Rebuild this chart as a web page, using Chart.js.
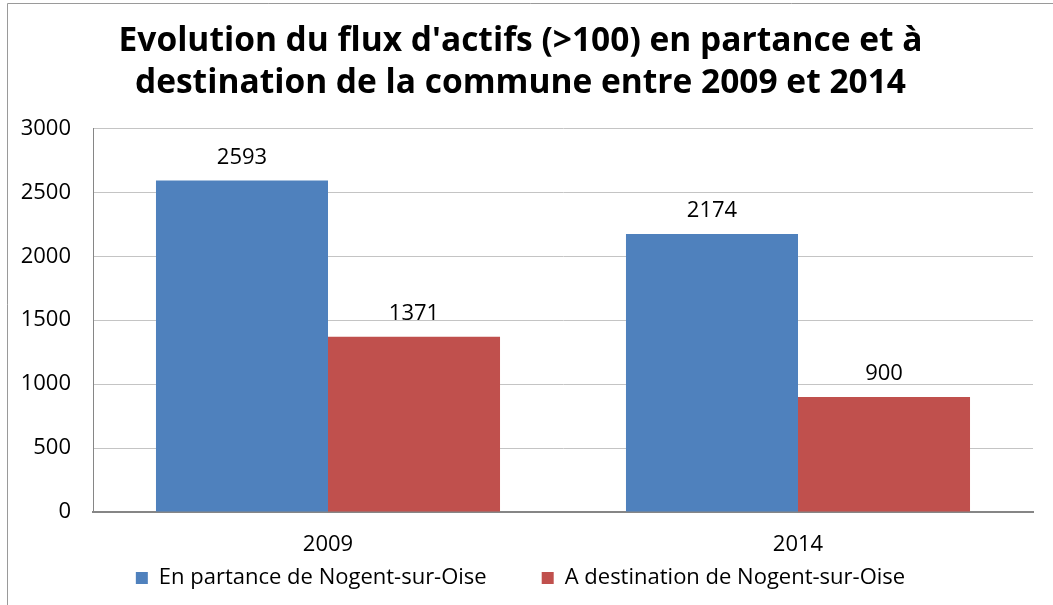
<!DOCTYPE html>
<html lang="fr">
<head>
<meta charset="utf-8">
<title>Flux d'actifs</title>
<script src="https://cdn.jsdelivr.net/npm/chart.js@4/dist/chart.umd.min.js"></script>
<style>
  html, body { margin: 0; padding: 0; background: #fff; }
  #wrap { width: 1053px; height: 605px; position: relative; }
</style>
</head>
<body>
<div id="wrap"><canvas id="chart"></canvas></div>
<script>
// --- DATA ---
const categories = ['2009', '2014'];
const departures = [2593, 2174];   // En partance de Nogent-sur-Oise
const arrivals = [1371, 900];      // A destination de Nogent-sur-Oise
const seriesNames = ['En partance de Nogent-sur-Oise', 'A destination de Nogent-sur-Oise'];
const titleLines = ["Evolution du flux d'actifs (>100) en partance et à", 'destination de la commune entre 2009 et 2014'];

const FONT = "'Open Sans', 'Noto Sans', sans-serif";

// value labels above each bar
const valueLabels = {
    id: 'valueLabels',
    afterDatasetsDraw(chart) {
        const ctx = chart.ctx;
        ctx.save();
        ctx.font = '22px ' + FONT;
        ctx.fillStyle = '#000';
        ctx.textAlign = 'center';
        ctx.textBaseline = 'middle';
        chart.data.datasets.forEach((ds, i) => {
            chart.getDatasetMeta(i).data.forEach((bar, j) => {
                ctx.fillText(String(ds.data[j]), bar.x, bar.y - 23);
            });
        });
        ctx.restore();
    }
};

// outer frame of the chart object
const frame = {
    id: 'frame',
    beforeDraw(chart) {
        const ctx = chart.ctx;
        ctx.save();
        ctx.strokeStyle = '#9a9a9a';
        ctx.lineWidth = 1;
        ctx.beginPath();
        ctx.moveTo(7.5, chart.height);
        ctx.lineTo(7.5, 3.5);
        ctx.lineTo(chart.width, 3.5);
        ctx.stroke();
        ctx.restore();
    }
};

new Chart(document.getElementById('chart'), {
    type: 'bar',
    data: {
        labels: categories,
        datasets: [
            { label: seriesNames[0], data: departures, backgroundColor: '#4F81BD' },
            { label: seriesNames[1], data: arrivals, backgroundColor: '#C0504D' }
        ]
    },
    options: {
        responsive: true,
        maintainAspectRatio: false,
        animation: false,
        layout: { padding: { left: 8, right: 20, top: 10, bottom: 6 } },
        datasets: { bar: { categoryPercentage: 0.732, barPercentage: 1.0 } },
        plugins: {
            title: {
                display: true,
                text: titleLines,
                color: '#000',
                font: { family: FONT, size: 33.5, weight: 'bold', lineHeight: 1.26 },
                padding: { top: 10, bottom: 24 }
            },
            legend: {
                position: 'bottom',
                labels: {
                    color: '#000',
                    font: { family: FONT, size: 22 },
                    boxWidth: 12,
                    boxHeight: 12,
                    padding: 55
                }
            },
            tooltip: { enabled: false }
        },
        scales: {
            x: {
                // labels are mirrored (no clipping) and pushed below the axis
                afterFit(scale) { scale.height = 0; },
                grid: { display: false, drawTicks: false },
                border: { color: '#868686', width: 2 },
                ticks: { color: '#000', font: { family: FONT, size: 22 }, mirror: true, padding: -46 }
            },
            y: {
                min: 0,
                max: 3000,
                afterFit(scale) { scale.width = 85; },
                grid: { color: '#c4c4c4', drawTicks: false },
                border: { color: '#868686', width: 1 },
                ticks: {
                    stepSize: 500,
                    color: '#000',
                    font: { family: FONT, size: 22 },
                    padding: 22,
                    callback: v => String(v)
                }
            }
        }
    },
    plugins: [frame, valueLabels]
});
</script>
</body>
</html>
